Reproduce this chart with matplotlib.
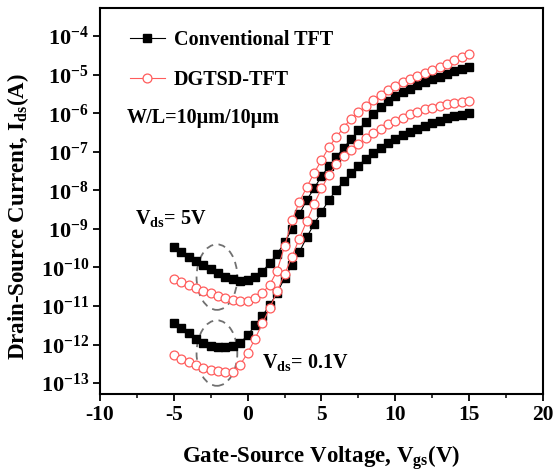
import numpy as np
import matplotlib
matplotlib.use("Agg")
import matplotlib.pyplot as plt
from matplotlib.patches import Ellipse
from matplotlib.ticker import FixedLocator, MultipleLocator, FuncFormatter

# gate voltage sweep (V), 0.5 V steps
vgs = np.arange(-5, 15.01, 0.5)

# Vds = 5 V
conv_5 = [3.39e-10, 2.51e-10, 1.91e-10, 1.45e-10, 1.15e-10, 8.91e-11, 7.08e-11, 5.75e-11,
          5.01e-11, 4.57e-11, 4.68e-11, 5.50e-11, 7.76e-11, 1.32e-10, 2.24e-10, 4.47e-10,
          9.77e-10, 2.40e-9, 5.62e-9, 1.12e-8, 2.34e-8, 4.17e-8, 7.24e-8, 1.26e-7,
          2.14e-7, 3.63e-7, 6.03e-7, 9.55e-7, 1.45e-6, 2.04e-6, 2.75e-6, 3.55e-6,
          4.37e-6, 5.37e-6, 6.46e-6, 7.59e-6, 8.91e-6, 1.05e-5, 1.23e-5, 1.41e-5, 1.62e-5]
dgtsd_5 = [4.90e-11, 4.17e-11, 3.47e-11, 2.95e-11, 2.51e-11, 2.14e-11, 1.82e-11, 1.58e-11,
           1.41e-11, 1.32e-11, 1.32e-11, 1.58e-11, 2.19e-11, 3.55e-11, 8.32e-11, 3.55e-10,
           1.66e-9, 5.01e-9, 1.20e-8, 2.82e-8, 6.03e-8, 1.32e-7, 2.40e-7, 4.27e-7,
           7.24e-7, 1.07e-6, 1.51e-6, 2.19e-6, 3.02e-6, 3.98e-6, 5.01e-6, 6.31e-6,
           7.76e-6, 9.33e-6, 1.12e-5, 1.35e-5, 1.58e-5, 1.91e-5, 2.34e-5, 2.82e-5, 3.39e-5]

# Vds = 0.1 V
conv_01 = [3.72e-12, 2.63e-12, 1.95e-12, 1.41e-12, 1.10e-12, 9.33e-13, 8.71e-13, 8.71e-13,
           9.33e-13, 1.12e-12, 1.74e-12, 3.16e-12, 5.62e-12, 1.05e-11, 2.24e-11, 5.25e-11,
           1.17e-10, 2.51e-10, 6.03e-10, 1.35e-9, 2.75e-9, 5.62e-9, 1.02e-8, 1.70e-8,
           2.82e-8, 4.37e-8, 6.61e-8, 9.33e-8, 1.26e-7, 1.66e-7, 2.14e-7, 2.69e-7,
           3.31e-7, 3.98e-7, 4.79e-7, 5.62e-7, 6.46e-7, 7.41e-7, 8.32e-7, 9.12e-7, 1.00e-6]
dgtsd_01 = [5.25e-13, 4.27e-13, 3.47e-13, 2.88e-13, 2.51e-13, 2.24e-13, 2.09e-13, 2.00e-13,
            2.00e-13, 3.02e-13, 6.03e-13, 1.41e-12, 3.55e-12, 8.91e-12, 2.40e-11, 6.61e-11,
            1.91e-10, 5.62e-10, 1.58e-9, 4.37e-9, 1.12e-8, 2.51e-8, 4.79e-8, 7.59e-8,
            1.12e-7, 1.58e-7, 2.24e-7, 3.02e-7, 3.98e-7, 5.13e-7, 6.31e-7, 7.76e-7,
            9.33e-7, 1.10e-6, 1.26e-6, 1.41e-6, 1.55e-6, 1.70e-6, 1.86e-6, 2.00e-6, 2.14e-6]

series_labels = ["Conventional TFT", "DGTSD-TFT"]
y_decades = list(range(-13, -3))

plt.rcParams["font.family"] = "Liberation Serif"
plt.rcParams["font.weight"] = "bold"
plt.rcParams["axes.labelweight"] = "bold"
plt.rcParams["mathtext.fontset"] = "custom"
plt.rcParams["mathtext.rm"] = "Liberation Serif:bold"
plt.rcParams["mathtext.it"] = "Liberation Serif:bold"
plt.rcParams["mathtext.bf"] = "Liberation Serif:bold"
plt.rcParams["axes.unicode_minus"] = False

red = "#ff5c5c"

fig = plt.figure(figsize=(5.54, 4.73), dpi=100)
ax = fig.add_axes([0.1805, 0.168, 0.7995, 0.815])

kw_c = dict(color="black", lw=0.8, marker="s", ms=5.4, mfc="black", mec="black")
kw_d = dict(color=red, lw=0.8, marker="o", ms=6.4, mfc="white", mec=red, mew=0.9)

ax.plot(vgs, conv_5, label=series_labels[0], **kw_c)
ax.plot(vgs, dgtsd_5, label=series_labels[1], **kw_d)
ax.plot(vgs, conv_01, **kw_c)
ax.plot(vgs, dgtsd_01, **kw_d)

ax.set_yscale("log")
ax.set_xlim(-10, 20)
ax.set_ylim(10 ** -13.27, 10 ** -3.27)
ax.xaxis.set_major_locator(MultipleLocator(5))
ax.xaxis.set_minor_locator(MultipleLocator(2.5))
ax.yaxis.set_major_locator(FixedLocator([10.0 ** d for d in y_decades]))
ax.yaxis.set_minor_locator(FixedLocator([]))
ax.yaxis.set_major_formatter(FuncFormatter(lambda v, p: r"$\mathrm{10^{%d}}$" % round(np.log10(v))))

ax.tick_params(axis="both", which="major", direction="out", length=5, width=1.3,
               labelsize=15.5, top=False, right=False)
ax.tick_params(axis="y", labelsize=16, pad=3)
ax.tick_params(axis="x", which="minor", direction="out", length=3, width=1.1)
for s in ax.spines.values():
    s.set_linewidth(1.5)

ax.set_xlabel(r"Gate-Source Voltage, V$_{gs}$(V)", fontsize=16.5, labelpad=13)
ax.set_ylabel(r"Drain-Source Current, I$_{ds}$(A)", fontsize=16.5)
ax.yaxis.set_label_coords(-0.155, 0.46)

ax.legend(loc="upper left", bbox_to_anchor=(0.04, 0.975), frameon=False, fontsize=14.5,
          handlelength=1.75, handletextpad=0.45, labelspacing=1.0, borderaxespad=0.2)

ax.text(0.06, 0.715, "W/L=10\u03bcm/10\u03bcm", transform=ax.transAxes, fontsize=14.5,
        va="center", ha="left")
ax.text(0.08, 0.455, r"V$_{ds}$= 5V", transform=ax.transAxes, fontsize=14.5,
        va="center", ha="left")
ax.text(0.365, 0.08, r"V$_{ds}$= 0.1V", transform=ax.transAxes, fontsize=14.5,
        va="center", ha="left")

for cy in (0.302, 0.105):
    ax.add_patch(Ellipse((0.264, cy), 0.092, 0.17, transform=ax.transAxes, fill=False,
                         ec="#707070", lw=1.3, ls=(0, (4, 3))))

fig.savefig("out.png", dpi=100)
